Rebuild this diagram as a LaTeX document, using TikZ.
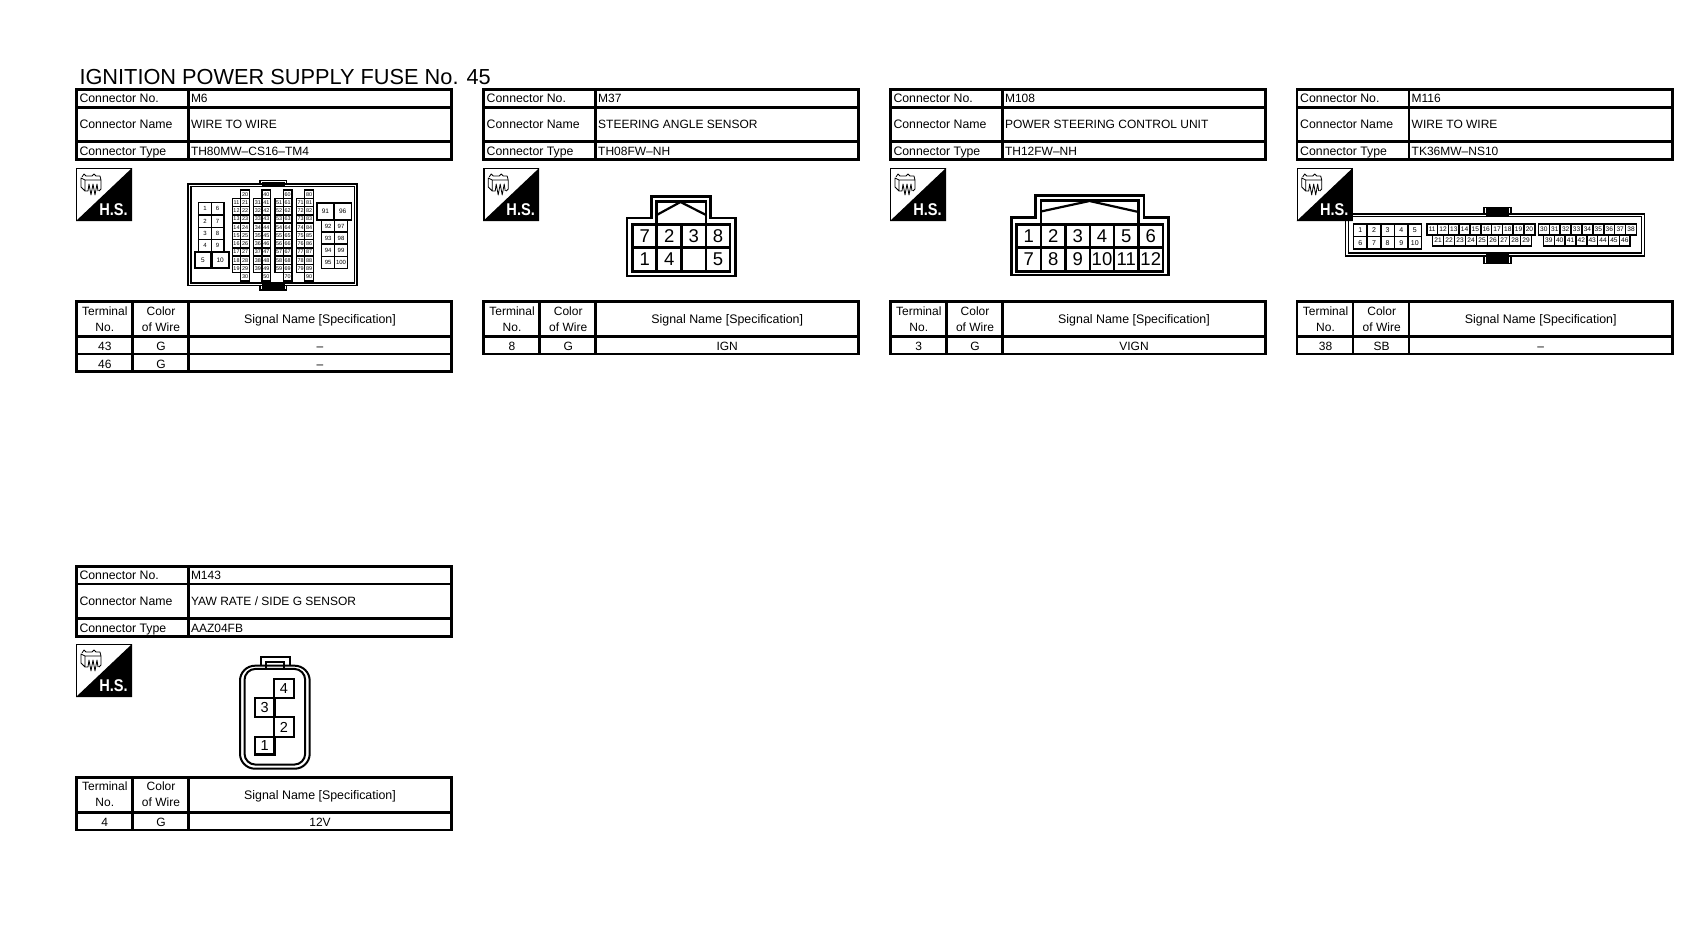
\documentclass[tikz,border=0pt]{standalone}
\usepackage{fontspec}
\setmainfont{Liberation Sans}
\newcommand{\fsz}[1]{\fontsize{#1}{#1}\selectfont}
\tikzset{
  x=1pt,y=-1pt,
  rule/.style={line width=2.6pt,line cap=rect},
  frame/.style={line width=2pt,line join=miter},
  lbl/.style={inner sep=0pt,outer sep=0pt,anchor=base west,font=\fsz{12.3}},
  ctr/.style={inner sep=0pt,outer sep=0pt,anchor=base,font=\fsz{12},align=center},
  term/.style={draw,line width=1.5pt,inner sep=0pt,outer sep=0pt,anchor=north west,fill=white},
  bigterm/.style={draw,line width=2.2pt,inner sep=0pt,outer sep=0pt,anchor=north west,fill=white},
  pin/.style={draw,line width=2.7pt,inner sep=0pt,outer sep=0pt,anchor=north west,minimum height=23.5pt,font=\fsz{18.5}}
}
% #1 name, #2 x, #3 y, #4 w, #5 h, #6 size, #7 text
\newcommand{\Cell}[7]{\node[term,minimum width=#4pt,minimum height=#5pt,font=\fsz{#6}] (#1) at (#2,#3) {#7};}
\newcommand{\BigCell}[7]{\node[bigterm,minimum width=#4pt,minimum height=#5pt,font=\fsz{#6}] (#1) at (#2,#3) {#7};}
% header table, block name #1, then No/Name/Type; coordinates of block 1
\newcommand{\HeadTable}[4]{
  \draw[rule] (76.3,89.5) rectangle (451.5,159.5);
  \draw[rule] (76.3,107.4) -- (451.5,107.4);
  \draw[rule] (76.3,141.7) -- (451.5,141.7);
  \draw[rule] (188.3,89.5) -- (188.3,159.5);
  \node[lbl] (#1-nol) at (79.5,103) {Connector No.};
  \node[lbl] (#1-namel) at (79.5,129) {Connector Name};
  \node[lbl] (#1-typel) at (79.5,156) {Connector Type};
  \node[lbl,font=\fsz{12}] (#1-no) at (191,103) {#2};
  \node[lbl,font=\fsz{12}] (#1-name) at (191,129) {#3};
  \node[lbl,font=\fsz{12}] (#1-type) at (191,156) {#4};
}
% signal table header with first row; #1 name; #2 term; #3 colour; #4 signal
\newcommand{\SigTable}[4]{
  \draw[rule] (76.3,301.7) rectangle (451.5,354);
  \draw[rule] (76.3,336.7) -- (451.5,336.7);
  \draw[rule] (132.3,301.7) -- (132.3,354);
  \draw[rule] (188.3,301.7) -- (188.3,354);
  \node[ctr] (#1-th1) at (104.8,315) {Terminal};
  \node[ctr] (#1-th2) at (104.8,331) {No.};
  \node[ctr] (#1-ch1) at (161,315) {Color};
  \node[ctr] (#1-ch2) at (161,331) {of Wire};
  \node[ctr,font=\fsz{12.4}] (#1-sh) at (320,323.5) {Signal Name [Specification]};
  \node[ctr] (#1-r1a) at (104.8,350.5) {#2};
  \node[ctr] (#1-r1b) at (161,350.5) {#3};
  \node[ctr] (#1-r1c) at (320,350.5) {#4};
}
% H.S. icon; #1 name
\newcommand{\HSIcon}[1]{
  \fill[white] (76,168) rectangle (132,221);
  \fill[black] (132,168) -- (132,221) -- (76,221) -- cycle;
  \draw[line width=1.4pt] (76.7,168.7) rectangle (131.3,220.3);
  \draw[line width=.8pt,line join=round]
    (82,177) -- (84,174) -- (86,176) -- (92,176) -- (94,174) -- (96,176) -- (100,176)
    (81,178) -- (81,187) -- (85,191) -- (85,180) -- cycle
    (85,180) -- (101,180) -- (101,189) -- (99,191)
    (100,176) -- (101,180)
    (85,191) -- (88,191) -- (89,184) -- (91,195) -- (93,184) -- (95,195) -- (97,184) -- (98,191);
  \node[inner sep=0pt,outer sep=0pt,anchor=base,text=white,font=\fsz{17}\bfseries,xscale=.86] (#1-hs) at (113.5,215.3) {H.S.};
}
\begin{document}
\begin{tikzpicture}
\useasboundingbox (0,0) rectangle (1694,944);
\fill[white] (0,0) rectangle (1694,944);
\node[inner sep=0pt,outer sep=0pt,anchor=base west,font=\fsz{21.75}] (title) at (79.5,84.3) {IGNITION POWER SUPPLY FUSE No. 45};

% ---------- Block 1: M6
\HeadTable{a}{M6}{WIRE TO WIRE}{TH80MW–CS16–TM4}
\HSIcon{a}
\SigTable{a}{43}{G}{–}
\draw[rule] (76.3,354) -- (76.3,371.7) -- (451.5,371.7) -- (451.5,354);
\draw[rule] (132.3,354) -- (132.3,371.7);
\draw[rule] (188.3,354) -- (188.3,371.7);
\node[ctr] (a-r2a) at (104.8,368) {46};
\node[ctr] (a-r2b) at (161,368) {G};
\node[ctr] (a-r2c) at (320,368) {–};
% connector M6
\draw[frame,line width=1.6pt] (259.8,184) -- (259.8,180.5) -- (286.6,180.5) -- (286.6,184);
\draw[frame,line width=1.6pt] (259.8,285) -- (259.8,290) -- (286.6,290) -- (286.6,285);
\fill (261.7,181.7) rectangle (284.5,186);
\fill (261.7,283.5) rectangle (284.5,288.7);
\draw[frame,line width=1.5pt] (187.9,183.9) rectangle (357.1,285.6);
\draw[frame,line width=1.5pt] (190.8,186.6) rectangle (354.6,283);
\foreach \i [count=\r from 0] in {1,2,3,4}{
  \pgfmathtruncatemacro{\j}{\i+5}
  \pgfmathsetmacro{\yy}{202.7+12.3*\r}
  \Cell{a-c\i}{198.7}{\yy}{12.6}{12.3}{6}{\i}
  \Cell{a-c\j}{211.3}{\yy}{12.7}{12.3}{6}{\j}
}
\BigCell{a-c5}{194.6}{251.8}{16.8}{16.2}{6.5}{5}
\BigCell{a-c10}{211.4}{251.8}{17.6}{16.2}{6.5}{10}
\foreach \gx/\ga/\gb in {232.3/11/20, 253.7/31/40, 275/51/60, 296.3/71/80}{
  \foreach \k in {0,...,8}{
    \pgfmathtruncatemacro{\n}{\ga+\k}
    \pgfmathsetmacro{\yy}{198.4+8.24*\k}
    \Cell{a-c\n}{\gx}{\yy}{8.4}{8.24}{5.4}{\n}
  }
  \foreach \k in {0,...,10}{
    \pgfmathtruncatemacro{\n}{\gb+\k}
    \pgfmathsetmacro{\yy}{190.2+8.24*\k}
    \pgfmathsetmacro{\xx}{\gx+8.4}
    \Cell{a-c\n}{\xx}{\yy}{8.6}{8.24}{5.4}{\n}
  }
}
\Cell{a-c91}{316.8}{202.8}{17.2}{17.2}{6.5}{91}
\Cell{a-c96}{334}{202.8}{17.4}{17.2}{6.5}{96}
\foreach \i [count=\r from 0] in {92,93,94,95}{
  \pgfmathtruncatemacro{\j}{\i+5}
  \pgfmathsetmacro{\yy}{220+12.1*\r}
  \Cell{a-c\i}{321.7}{\yy}{13}{12.1}{6}{\i}
  \Cell{a-c\j}{334.7}{\yy}{12.7}{12.1}{6}{\j}
}

% ---------- Block 2: M37
\begin{scope}[shift={(407.2,0)}]
\HeadTable{b}{M37}{STEERING ANGLE SENSOR}{TH08FW–NH}
\HSIcon{b}
\SigTable{b}{8}{G}{IGN}
\end{scope}
\draw[line width=2.9pt,line join=miter] (627,247) -- (627,218) -- (651.2,218) -- (651.2,196.2) -- (710.5,196.2) -- (710.5,218) -- (735.5,218) -- (735.5,276) -- (627,276) -- cycle;
\draw[line width=2.7pt,line join=miter] (656.7,224) -- (656.7,201.5) -- (706,201.5) -- (706,224);
\draw[line width=2.2pt,line join=round] (656.7,215) -- (680.5,202) -- (706,215);
\foreach \lab/\xa/\cw/\yy [count=\q] in {7/632.6/24.1/224.2, 2/656.7/25/224.2, 3/681.7/24.3/224.2, 8/706/24/224.2, 1/632.6/24.1/247.7, 4/656.7/25/247.7, {}/681.7/24.3/247.7, 5/706/24/247.7}{
  \node[pin,minimum width=\cw pt] (b-p\q) at (\xa,\yy) {\lab};
}

% ---------- Block 3: M108
\begin{scope}[shift={(814,0)}]
\HeadTable{c}{M108}{POWER STEERING CONTROL UNIT}{TH12FW–NH}
\HSIcon{c}
\SigTable{c}{3}{G}{VIGN}
\end{scope}
\draw[line width=2.9pt,line join=miter] (1011.3,247) -- (1011.3,217.5) -- (1035.5,217.5) -- (1035.5,195.2) -- (1144,195.2) -- (1144,217.5) -- (1168.2,217.5) -- (1168.2,275) -- (1011.3,275) -- cycle;
\draw[line width=2.7pt,line join=miter] (1041,224) -- (1041,200.3) -- (1138.5,200.3) -- (1138.5,224);
\draw[line width=2.2pt,line join=round] (1041,211.5) -- (1089.5,201) -- (1138.5,212);
\foreach \lab/\xa/\cw/\yy [count=\q] in {1/1016.6/24.4/224.2, 2/1041/24.5/224.2, 3/1065.5/24.5/224.2, 4/1090/24/224.2, 5/1114/24.5/224.2, 6/1138.5/24.5/224.2, 7/1016.6/24.4/247.7, 8/1041/24.5/247.7, 9/1065.5/24.5/247.7, 10/1090/24/247.7, 11/1114/24.5/247.7, 12/1138.5/24.5/247.7}{
  \node[pin,minimum width=\cw pt] (c-p\q) at (\xa,\yy) {\lab};
}

% ---------- Block 4: M116
\begin{scope}[shift={(1220.7,0)}]
\HeadTable{d}{M116}{WIRE TO WIRE}{TK36MW–NS10}
\SigTable{d}{38}{SB}{–}
\end{scope}
\draw[line width=1.5pt] (1484,214) -- (1484,207.3) -- (1511,207.3) -- (1511,214);
\draw[line width=1.5pt] (1484,256) -- (1484,263.7) -- (1511,263.7) -- (1511,256);
\fill (1485.8,208.5) rectangle (1509.2,216.5);
\fill (1485.8,253.2) rectangle (1509.2,262.5);
\draw[line width=1.5pt] (1345.7,214) rectangle (1644.5,256);
\draw[line width=1.5pt] (1348.6,216.5) rectangle (1641.7,253.2);
\begin{scope}[shift={(1220.7,0)}]\HSIcon{d}\end{scope}
\foreach \i [count=\r from 0] in {1,2,3,4,5}{
  \pgfmathtruncatemacro{\j}{\i+5}
  \pgfmathsetmacro{\xx}{1353.6+13.6*\r}
  \Cell{d-c\i}{\xx}{224}{13.6}{12.5}{7}{\i}
  \Cell{d-c\j}{\xx}{236.5}{13.6}{12.5}{7}{\j}
}
\foreach \k in {0,...,9}{
  \pgfmathtruncatemacro{\n}{11+\k}
  \pgfmathsetmacro{\xx}{1426.8+10.8*\k}
  \Cell{d-c\n}{\xx}{224}{10.8}{11}{6.6}{\n}
}
\foreach \k in {0,...,8}{
  \pgfmathtruncatemacro{\n}{21+\k}
  \pgfmathsetmacro{\xx}{1432.5+11*\k}
  \Cell{d-c\n}{\xx}{235}{11}{11}{6.6}{\n}
}
\foreach \k in {0,...,8}{
  \pgfmathtruncatemacro{\n}{30+\k}
  \pgfmathsetmacro{\xx}{1538.4+10.9*\k}
  \Cell{d-c\n}{\xx}{224}{10.9}{11}{6.6}{\n}
}
\foreach \k in {0,...,7}{
  \pgfmathtruncatemacro{\n}{39+\k}
  \pgfmathsetmacro{\xx}{1543.4+10.85*\k}
  \Cell{d-c\n}{\xx}{235}{10.85}{11}{6.6}{\n}
}

% ---------- Block 5: M143
\begin{scope}[shift={(0,476.7)}]
\HeadTable{e}{M143}{YAW RATE / SIDE G SENSOR}{AAZ04FB}
\end{scope}
\begin{scope}[shift={(0,476)}]
\HSIcon{e}
\end{scope}
\begin{scope}[shift={(0,475.8)}]
\SigTable{e}{4}{G}{12V}
\end{scope}
\draw[line width=2pt,line join=miter] (260.7,666) -- (260.7,656.7) -- (289.8,656.7) -- (289.8,666);
\draw[line width=2pt] (265.5,668) -- (265.5,661.5) -- (284,661.5) -- (284,668);
\draw[line width=2pt,rounded corners=15pt] (240,665.7) rectangle (309.7,768.7);
\draw[line width=2pt,rounded corners=11pt] (244.5,668.9) rectangle (305.2,764.6);
\foreach \lab/\xa/\yy/\cw/\ch [count=\q] in {4/274/678.7/20/19, 3/255/697.7/19.5/19.5, 2/274/717.2/20/19.5, 1/255/736.7/19.5/17.8}{
  \node[draw,line width=2.1pt,inner sep=0pt,outer sep=0pt,anchor=north west,minimum width=\cw pt,minimum height=\ch pt,font=\fsz{14.5}] (e-p\q) at (\xa,\yy) {\lab};
}
\end{tikzpicture}
\end{document}
